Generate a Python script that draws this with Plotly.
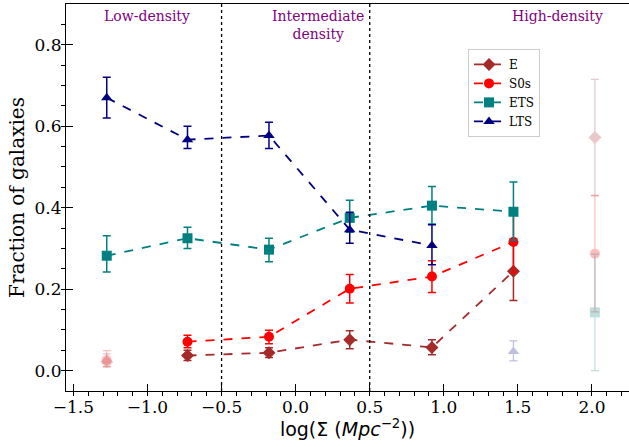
import plotly.graph_objects as go

# E
e_x = [-0.73, -0.18, 0.365, 0.92, 1.47]
e_y = [0.037, 0.044, 0.076, 0.057, 0.244]
e_up = [0.013, 0.012, 0.022, 0.019, 0.075]
e_dn = [0.012, 0.012, 0.022, 0.018, 0.072]
e_fx = [-1.275, 2.02]
e_fy = [0.021, 0.572]
e_fup = [0.02, 0.143]
e_fdn = [0.012, 0.143]

# S0s
s_x = [-0.73, -0.18, 0.365, 0.92, 1.47]
s_y = [0.071, 0.083, 0.201, 0.231, 0.316]
s_up = [0.016, 0.016, 0.035, 0.039, 0.075]
s_dn = [0.015, 0.017, 0.035, 0.039, 0.075]
s_fx = [-1.275, 2.02]
s_fy = [0.026, 0.287]
s_fup = [0.023, 0.143]
s_fdn = [0.016, 0.143]

# ETS
t_x = [-1.275, -0.73, -0.18, 0.365, 0.92, 1.47]
t_y = [0.282, 0.325, 0.297, 0.375, 0.405, 0.39]
t_up = [0.049, 0.027, 0.028, 0.043, 0.047, 0.073]
t_dn = [0.040, 0.025, 0.030, 0.035, 0.045, 0.070]
t_fx = [2.02]
t_fy = [0.143]
t_fup = [0.143]
t_fdn = [0.143]

# LTS
l_x = [-1.275, -0.73, -0.18, 0.365, 0.92]
l_y = [0.67, 0.567, 0.577, 0.346, 0.307]
l_up = [0.05, 0.033, 0.033, 0.043, 0.051]
l_dn = [0.05, 0.022, 0.032, 0.033, 0.047]
l_fx = [1.47]
l_fy = [0.047]
l_fup = [0.026]
l_fdn = [0.023]

region_labels = ["Low-density", "Intermediate<br>density", "High-density"]
region_x = [-1.0, 0.15, 1.77]
boundaries = [-0.5, 0.5]

x_ticks = [-1.5, -1.0, -0.5, 0.0, 0.5, 1.0, 1.5, 2.0]
x_ticklabels = ["\u22121.5", "\u22121.0", "\u22120.5", "0.0", "0.5", "1.0", "1.5", "2.0"]
y_ticks = [0.0, 0.2, 0.4, 0.6, 0.8]
y_ticklabels = ["0.0", "0.2", "0.4", "0.6", "0.8"]

series = [
    ("E", "#A52A2A", "diamond", e_x, e_y, e_up, e_dn, e_fx, e_fy, e_fup, e_fdn),
    ("S0s", "#FF0000", "circle", s_x, s_y, s_up, s_dn, s_fx, s_fy, s_fup, s_fdn),
    ("ETS", "#008080", "square", t_x, t_y, t_up, t_dn, t_fx, t_fy, t_fup, t_fdn),
    ("LTS", "#000080", "triangle-up", l_x, l_y, l_up, l_dn, l_fx, l_fy, l_fup, l_fdn),
]

fig = go.Figure()
for name, col, sym, x, y, up, dn, fx, fy, fup, fdn in series:
    fig.add_trace(go.Scatter(
        x=fx, y=fy, mode="markers", showlegend=False, opacity=0.25,
        marker=dict(color=col, symbol=sym, size=10),
        error_y=dict(type="data", array=fup, arrayminus=fdn, color=col,
                     thickness=1.2, width=4),
    ))
for name, col, sym, x, y, up, dn, fx, fy, fup, fdn in series:
    fig.add_trace(go.Scatter(
        x=x, y=y, mode="lines+markers", name=name,
        line=dict(color=col, dash="dash", width=1.8),
        marker=dict(color=col, symbol=sym, size=10),
        error_y=dict(type="data", array=up, arrayminus=dn, color=col,
                     thickness=1.5, width=4),
    ))

for b in boundaries:
    fig.add_shape(type="line", x0=b, x1=b, y0=0, y1=1, xref="x", yref="paper",
                  line=dict(color="black", width=1.3, dash="dot"))

serif = "DejaVu Serif"
for t, xx in zip(region_labels, region_x):
    fig.add_annotation(text=t, x=xx, y=0.995, xref="x", yref="paper",
                       yanchor="top", showarrow=False,
                       font=dict(family=serif, size=14, color="#800080"))

fig.update_layout(
    width=629, height=447,
    margin=dict(l=66, r=0, t=4, b=56),
    plot_bgcolor="white", paper_bgcolor="white",
    font=dict(family=serif, size=16, color="black"),
    showlegend=True,
    legend=dict(x=0.714, y=0.884, xanchor="left", yanchor="top",
                bgcolor="rgba(255,255,255,0.8)", bordercolor="#cccccc",
                borderwidth=1, font=dict(family=serif, size=12),
                itemwidth=30, tracegroupgap=0),
    xaxis=dict(
        range=[-1.55, 2.25], tickvals=x_ticks, ticktext=x_ticklabels,
        ticks="inside", ticklen=7, tickwidth=1.2, tickcolor="black",
        minor=dict(dtick=0.1, tick0=0, ticks="outside", ticklen=4, tickcolor="black"),
        showline=True, linecolor="black", linewidth=1.2, mirror=True,
        showgrid=False, zeroline=False,
        title=dict(text="log(\u03a3 (<i>Mpc</i><sup>\u22122</sup>))",
                   font=dict(family="DejaVu Sans", size=19), standoff=6),
        tickfont=dict(family=serif, size=17),
    ),
    yaxis=dict(
        range=[-0.05, 0.9], tickvals=y_ticks, ticktext=y_ticklabels,
        ticks="inside", ticklen=7, tickwidth=1.2, tickcolor="black",
        minor=dict(dtick=0.05, tick0=0, ticks="outside", ticklen=4, tickcolor="black"),
        showline=True, linecolor="black", linewidth=1.2, mirror=False,
        showgrid=False, zeroline=False,
        title=dict(text="Fraction of galaxies", font=dict(family=serif, size=20), standoff=4),
        tickfont=dict(family=serif, size=17),
    ),
)

fig.write_html("out.html")
